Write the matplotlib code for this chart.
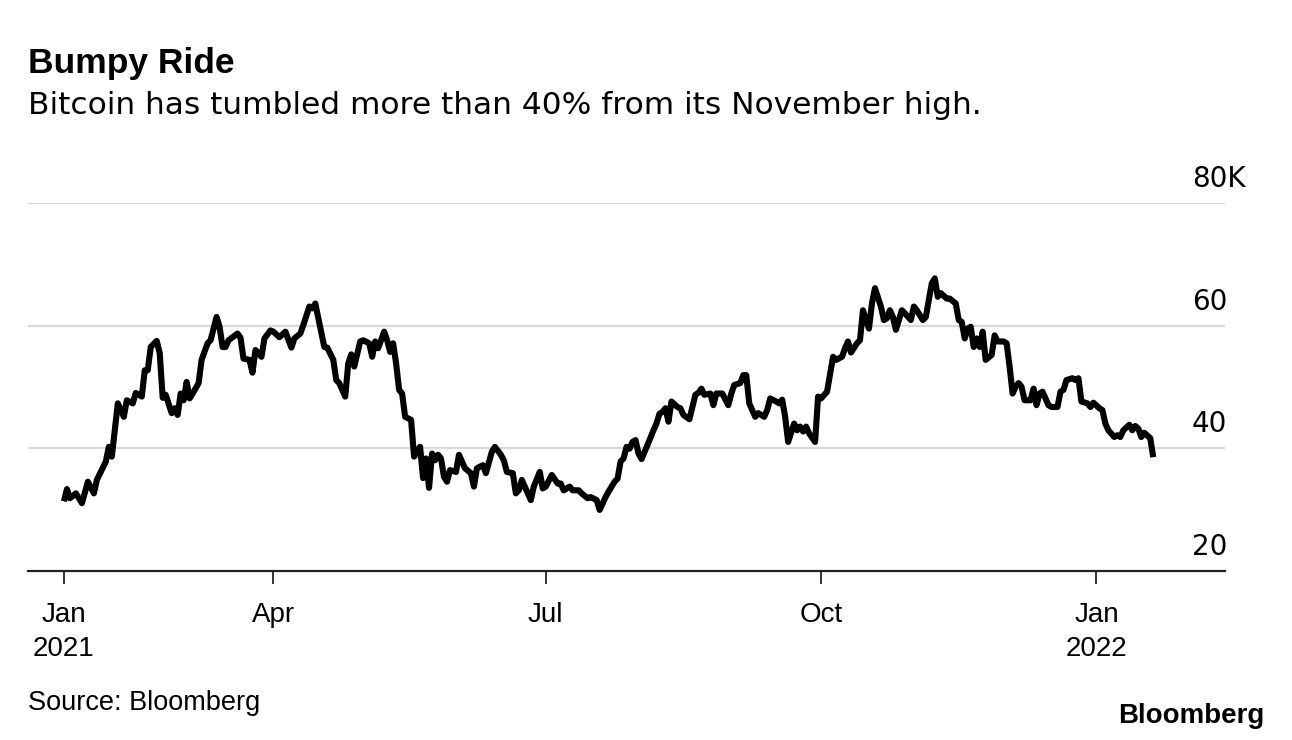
import numpy as np
import pandas as pd
import matplotlib
matplotlib.use("Agg")
import matplotlib.pyplot as plt

plt.rcParams['font.family'] = ['Liberation Sans', 'DejaVu Sans']

# Bitcoin price (thousands USD); days counted from the first point
start_date = pd.Timestamp("2021-01-21")
day_offsets = [
    0, 1, 2, 4, 6, 8, 10, 11, 14, 15, 16, 18, 20, 21, 23, 24, 26, 27, 28, 29,
    31, 32, 33, 34, 36, 37, 38, 39, 40, 41, 42, 43, 45, 46, 48, 49, 51, 52, 53, 54,
    55, 58, 59, 60, 62, 63, 64, 66, 67, 69, 70, 72, 74, 76, 77, 79, 80, 82, 83, 84,
    85, 87, 88, 90, 91, 92, 94, 95, 96, 97, 99, 100, 102, 103, 104, 105, 107, 108, 109, 110,
    111, 112, 113, 114, 116, 117, 119, 120, 121, 122, 123, 124, 125, 126, 127, 128, 129, 131, 132, 134,
    136, 137, 138, 140, 141, 143, 144, 146, 147, 148, 150, 151, 152, 153, 155, 156, 157, 159, 160, 161,
    163, 165, 166, 167, 169, 170, 172, 173, 175, 176, 178, 179, 181, 182, 184, 185, 186, 187, 188, 189,
    190, 191, 192, 193, 195, 197, 198, 199, 200, 201, 202, 203, 205, 206, 207, 209, 210, 211, 212, 213,
    214, 216, 217, 218, 219, 220, 222, 223, 224, 226, 227, 228, 229, 230, 231, 232, 234, 235, 236, 238,
    239, 240, 241, 242, 244, 245, 246, 247, 248, 249, 251, 252, 253, 255, 257, 258, 260, 261, 262, 263,
    265, 266, 267, 268, 269, 270, 271, 273, 274, 275, 276, 277, 278, 280, 281, 283, 284, 285, 287, 288,
    289, 290, 291, 292, 293, 295, 296, 298, 299, 300, 301, 302, 303, 304, 305, 306, 307, 308, 310, 311,
    312, 314, 315, 316, 317, 318, 319, 320, 321, 323, 324, 325, 326, 327, 329, 330, 332, 333, 334, 335,
    337, 338, 339, 340, 342, 343, 344, 346, 347, 348, 349, 351, 352, 353, 354, 356, 357, 358, 359, 360,
    361, 363, 364,
]
btc_k = [
    31.3, 33.3, 31.8, 32.6, 31.0, 34.5, 32.6, 34.8, 37.8, 40.2, 38.6, 47.3, 45.1, 47.8, 47.3, 49.0, 48.4, 52.7, 52.7, 56.5,
    57.5, 55.5, 48.2, 48.7, 45.7, 46.5, 45.4, 48.9, 47.8, 50.8, 48.1, 48.9, 50.6, 54.4, 57.1, 57.6, 61.4, 59.8, 56.5, 56.5,
    57.6, 58.7, 58.0, 54.6, 54.4, 52.3, 56.0, 54.9, 57.9, 59.2, 59.0, 58.1, 59.0, 56.4, 57.9, 58.7, 60.1, 63.1, 62.8, 63.6,
    61.2, 56.5, 56.4, 54.4, 51.1, 50.6, 48.4, 53.8, 55.3, 53.3, 57.4, 57.6, 57.1, 54.9, 57.4, 56.3, 59.0, 57.6, 55.7, 57.1,
    53.8, 49.5, 48.9, 45.1, 44.6, 38.6, 40.2, 35.1, 38.3, 33.5, 39.1, 38.0, 38.9, 38.3, 35.3, 34.5, 36.4, 36.1, 38.9, 36.7,
    35.9, 33.7, 36.7, 37.2, 35.9, 39.4, 40.2, 38.9, 38.0, 36.1, 35.9, 32.6, 33.1, 34.8, 32.6, 31.5, 33.7, 36.1, 33.4, 33.7,
    35.6, 34.2, 34.2, 33.1, 33.7, 33.1, 33.1, 32.6, 31.8, 32.0, 31.5, 29.9, 32.0, 32.9, 34.5, 35.0, 37.8, 38.3, 40.2, 39.9,
    41.0, 41.3, 39.1, 38.2, 40.5, 42.9, 44.0, 45.6, 45.9, 46.5, 44.3, 47.6, 46.7, 46.5, 45.4, 44.7, 46.7, 48.7, 49.0, 49.7,
    48.7, 48.9, 47.0, 48.9, 48.9, 48.9, 47.0, 48.9, 50.3, 50.6, 51.9, 51.9, 47.3, 46.2, 45.1, 45.7, 45.1, 46.2, 48.1, 47.6,
    47.3, 47.9, 45.1, 41.0, 44.0, 42.9, 43.5, 42.7, 43.5, 42.4, 41.0, 48.4, 48.1, 49.2, 54.9, 54.4, 54.9, 56.3, 57.4, 55.6,
    57.1, 57.6, 62.5, 60.9, 59.5, 63.6, 66.1, 63.1, 60.9, 61.2, 62.5, 61.4, 59.3, 62.5, 62.0, 60.9, 63.1, 62.5, 60.9, 61.4,
    64.2, 66.9, 67.7, 64.7, 65.3, 64.4, 64.4, 63.6, 60.9, 60.6, 57.9, 59.5, 59.8, 56.5, 57.9, 56.5, 59.0, 54.4, 55.2, 58.4,
    57.4, 57.4, 57.1, 53.3, 48.9, 50.0, 50.6, 50.0, 47.8, 47.8, 49.7, 47.0, 48.9, 49.2, 47.0, 46.7, 46.7, 49.2, 49.5, 51.1,
    51.4, 51.1, 51.4, 47.6, 47.3, 46.7, 47.4, 46.5, 46.2, 44.0, 42.9, 41.8, 42.1, 41.8, 42.9, 43.8, 42.9, 43.6, 43.2, 41.8,
    42.5, 41.6, 38.5,
]

tick_dates = ["2021-01-21", "2021-04-01", "2021-07-01", "2021-10-01", "2022-01-01"]
tick_labels = ["Jan\n2021", "Apr", "Jul", "Oct", "Jan\n2022"]
y_levels = [20, 40, 60, 80]
y_labels = ["20", "40", "60", "80K"]

dates = start_date + pd.to_timedelta(day_offsets, unit="D")

fig = plt.figure(figsize=(12.92, 7.40), dpi=100)
ax = fig.add_axes([0.0217, 0.229, 0.9265, 0.4966])

for lv in y_levels[1:]:
    ax.axhline(lv, color="#d9d9d9", lw=1.6, zorder=1)

ax.plot(dates, btc_k, color="black", lw=4.4, solid_joinstyle="round",
        solid_capstyle="butt", zorder=3)

ax.set_ylim(20, 80)
ax.set_xlim(start_date - pd.Timedelta(days=12), start_date + pd.Timedelta(days=388))

for s in ["top", "right", "left"]:
    ax.spines[s].set_visible(False)
ax.spines["bottom"].set_color("#222222")
ax.spines["bottom"].set_linewidth(1.6)

ax.set_yticks([])
ax.set_xticks(pd.to_datetime(tick_dates))
ax.set_xticklabels(tick_labels, fontsize=20, linespacing=1.42)
ax.tick_params(axis="x", length=9.5, width=1.3, color="#222222", pad=13)

# value labels sit above their gridlines, on the right
for lv, lab in zip(y_levels, y_labels):
    ax.annotate(lab, xy=(0.9724, lv), xycoords=("axes fraction", "data"),
                xytext=(0, 17.3), textcoords="offset points",
                ha="left", va="center", fontsize=20, family="DejaVu Sans")

fig.text(28 / 1292, 1 - 73 / 740, "Bumpy Ride", fontsize=25.5, fontweight="bold",
         va="baseline", ha="left")
fig.text(28 / 1292, 1 - 114 / 740,
         "Bitcoin has tumbled more than 40% from its November high.",
         fontsize=22.5, va="baseline", ha="left", family="DejaVu Sans")
fig.text(28 / 1292, 1 - 710 / 740, "Source: Bloomberg", fontsize=19.5,
         va="baseline", ha="left")
fig.text(1264 / 1292, 1 - 723 / 740, "Bloomberg", fontsize=20, fontweight="bold",
         va="baseline", ha="right")

fig.savefig("out.png", dpi=100)
